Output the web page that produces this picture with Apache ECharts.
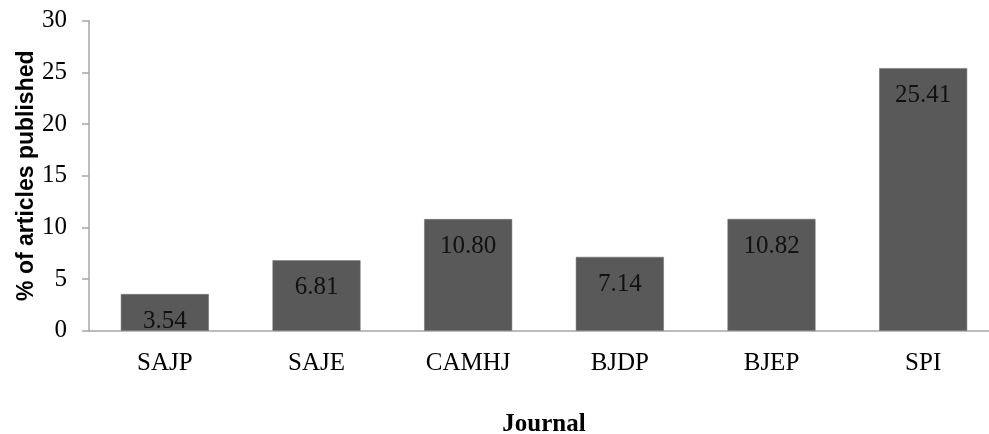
<!DOCTYPE html>
<html>
<head>
<meta charset="utf-8">
<script src="https://cdn.jsdelivr.net/npm/echarts@6/dist/echarts.min.js"></script>
<style>
  html, body { margin: 0; padding: 0; background: #fff; overflow: hidden; }
  #chart { width: 989px; height: 434px; }
</style>
</head>
<body>
<div id="chart"></div>
<script>
// Share of articles published per journal
const journals = ['SAJP', 'SAJE', 'CAMHJ', 'BJDP', 'BJEP', 'SPI'];
const percentages = [3.54, 6.81, 10.80, 7.14, 10.82, 25.41];
const valueLabels = ['3.54', '6.81', '10.80', '7.14', '10.82', '25.41'];

const serif = '"Liberation Serif", "Times New Roman", serif';
const axisGray = '#a6a6a6';

const chart = echarts.init(document.getElementById('chart'));
chart.setOption({
  animation: false,
  grid: {
    left: 89, top: 20.7, width: 910, height: 310,
    containLabel: false,
    outerBoundsMode: 'none'
  },
  xAxis: {
    type: 'category',
    data: journals,
    name: 'Journal',
    nameLocation: 'middle',
    nameGap: 81,
    nameMoveOverlap: false,
    nameTextStyle: { fontFamily: serif, fontWeight: 'bold', fontSize: 25, color: '#000' },
    axisLine: { lineStyle: { color: axisGray, width: 1.5 } },
    axisTick: { show: false },
    axisLabel: { fontFamily: serif, fontSize: 25, color: '#000', margin: 20 }
  },
  yAxis: {
    type: 'value',
    min: 0,
    max: 30,
    interval: 5,
    name: '% of articles published',
    nameLocation: 'middle',
    nameGap: 51,
    nameMoveOverlap: false,
    nameTextStyle: { fontFamily: '"Liberation Sans", Arial, sans-serif', fontWeight: 'bold', fontSize: 23, color: '#000' },
    axisLine: { show: true, lineStyle: { color: axisGray, width: 1.5 } },
    axisTick: { show: true, length: 7, lineStyle: { color: axisGray, width: 1.5 } },
    splitLine: { show: false },
    axisLabel: { fontFamily: serif, fontSize: 25, color: '#000', margin: 22 }
  },
  series: [{
    type: 'bar',
    data: percentages,
    barWidth: '58%',
    itemStyle: { color: '#595959', borderColor: '#6e6e6e', borderWidth: 0.5 },
    label: {
      show: true,
      position: 'insideTop',
      distance: 15,
      fontFamily: serif,
      fontSize: 25,
      color: '#111',
      formatter: p => valueLabels[p.dataIndex]
    }
  }]
});
</script>
</body>
</html>
